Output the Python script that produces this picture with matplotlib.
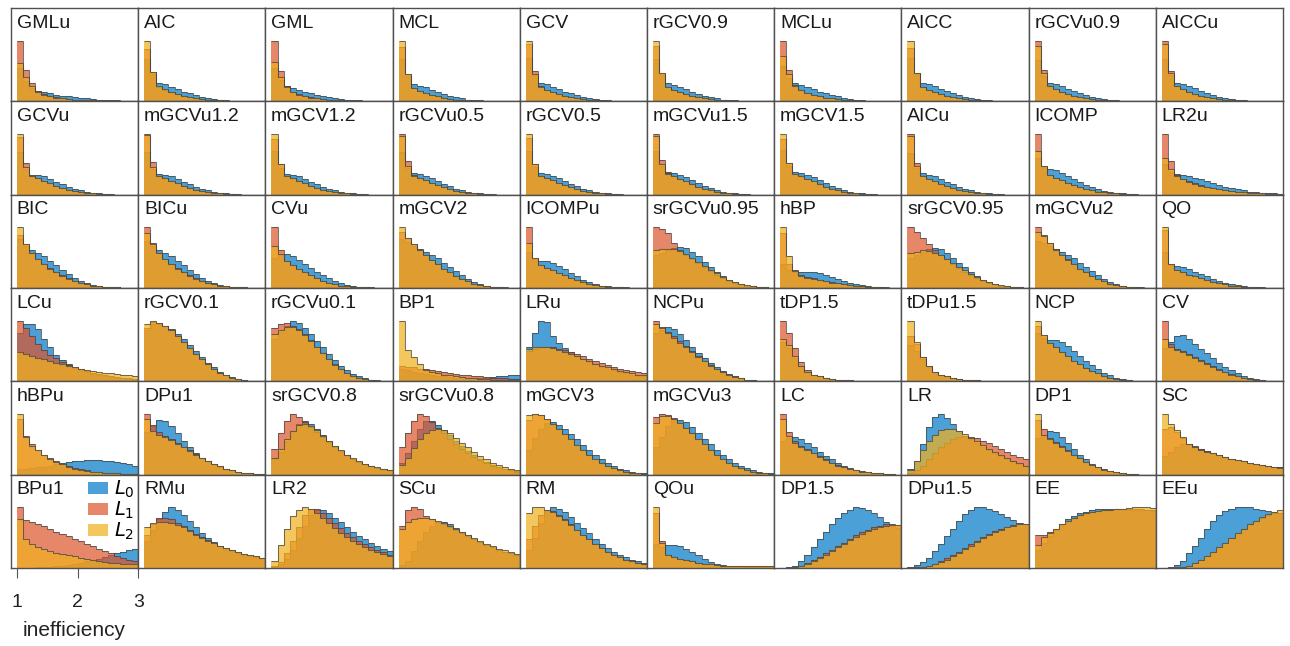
import numpy as np
import matplotlib.pyplot as plt
from matplotlib.patches import Patch

plt.rcParams['font.family'] = ['Liberation Sans', 'DejaVu Sans']

names = ['GMLu', 'AIC', 'GML', 'MCL', 'GCV', 'rGCV0.9', 'MCLu', 'AICC', 'rGCVu0.9', 'AICCu',
         'GCVu', 'mGCVu1.2', 'mGCV1.2', 'rGCVu0.5', 'rGCV0.5', 'mGCVu1.5', 'mGCV1.5', 'AICu', 'ICOMP', 'LR2u',
         'BIC', 'BICu', 'CVu', 'mGCV2', 'ICOMPu', 'srGCVu0.95', 'hBP', 'srGCV0.95', 'mGCVu2', 'QO',
         'LCu', 'rGCV0.1', 'rGCVu0.1', 'BP1', 'LRu', 'NCPu', 'tDP1.5', 'tDPu1.5', 'NCP', 'CV',
         'hBPu', 'DPu1', 'srGCV0.8', 'srGCVu0.8', 'mGCV3', 'mGCVu3', 'LC', 'LR', 'DP1', 'SC',
         'BPu1', 'RMu', 'LR2', 'SCu', 'RM', 'QOu', 'DP1.5', 'DPu1.5', 'EE', 'EEu']

# inefficiency bins 1.0 .. 3.0, width 0.1 (relative counts)
bin_edges = np.linspace(1, 3, 21)

L0 = [
    # row 1
    [55, 33, 22, 17, 15, 13, 11, 9, 8, 7, 6, 5, 4, 3, 3, 2, 2, 1, 1, 1],
    [70, 45, 30, 28, 24, 20, 16, 13, 10, 7, 5, 4, 3, 2, 1, 1, 1, 0, 0, 0],
    [55, 35, 26, 22, 19, 16, 13, 11, 9, 7, 5, 4, 3, 2, 2, 1, 1, 1, 0, 0],
    [70, 42, 28, 26, 23, 19, 15, 12, 9, 7, 5, 3, 2, 2, 1, 1, 0, 0, 0, 0],
    [72, 44, 30, 28, 24, 20, 16, 13, 10, 7, 5, 4, 3, 2, 1, 1, 0, 0, 0, 0],
    [70, 43, 30, 27, 24, 20, 16, 12, 9, 7, 5, 3, 2, 2, 1, 1, 0, 0, 0, 0],
    [58, 38, 30, 27, 24, 20, 16, 13, 10, 8, 6, 4, 3, 2, 1, 1, 1, 0, 0, 0],
    [72, 45, 31, 28, 25, 21, 17, 13, 10, 7, 5, 4, 3, 2, 1, 1, 0, 0, 0, 0],
    [68, 42, 30, 28, 25, 21, 17, 13, 10, 7, 5, 4, 3, 2, 1, 1, 0, 0, 0, 0],
    [70, 44, 31, 29, 26, 22, 17, 13, 10, 7, 5, 4, 3, 2, 1, 1, 0, 0, 0, 0],
    # row 2
    [70, 42, 33, 33, 30, 26, 21, 17, 13, 10, 7, 5, 3, 2, 1, 1, 0, 0, 0, 0],
    [70, 43, 34, 33, 30, 26, 21, 17, 13, 10, 7, 5, 3, 2, 1, 1, 0, 0, 0, 0],
    [72, 44, 34, 33, 30, 26, 21, 17, 13, 10, 7, 5, 3, 2, 1, 1, 0, 0, 0, 0],
    [70, 44, 35, 34, 31, 27, 22, 18, 14, 10, 7, 5, 3, 2, 1, 1, 0, 0, 0, 0],
    [72, 45, 35, 34, 31, 27, 22, 18, 14, 10, 7, 5, 3, 2, 1, 1, 0, 0, 0, 0],
    [72, 47, 38, 36, 33, 29, 24, 19, 15, 11, 8, 5, 3, 2, 1, 1, 0, 0, 0, 0],
    [74, 48, 38, 36, 33, 29, 24, 19, 15, 11, 8, 5, 3, 2, 1, 1, 0, 0, 0, 0],
    [68, 44, 35, 33, 30, 26, 21, 17, 13, 10, 7, 5, 3, 2, 1, 1, 0, 0, 0, 0],
    [60, 45, 42, 40, 36, 31, 26, 21, 16, 12, 9, 6, 4, 3, 2, 1, 1, 0, 0, 0],
    [50, 38, 34, 33, 31, 28, 25, 22, 19, 16, 13, 11, 9, 7, 5, 4, 3, 2, 2, 1],
    # row 3
    [80, 70, 62, 58, 52, 45, 38, 30, 23, 17, 12, 8, 5, 3, 2, 1, 1, 0, 0, 0],
    [78, 70, 63, 58, 52, 45, 38, 30, 23, 17, 12, 8, 5, 3, 2, 1, 1, 0, 0, 0],
    [50, 55, 56, 52, 46, 40, 33, 27, 21, 16, 12, 8, 5, 3, 2, 1, 1, 0, 0, 0],
    [80, 76, 70, 64, 60, 55, 49, 42, 35, 28, 21, 15, 10, 6, 4, 2, 1, 1, 0, 0],
    [60, 48, 45, 45, 42, 37, 31, 25, 19, 14, 10, 7, 4, 3, 2, 1, 1, 0, 0, 0],
    [55, 58, 62, 66, 68, 66, 60, 52, 43, 35, 27, 20, 14, 10, 7, 4, 3, 2, 1, 0],
    [40, 30, 26, 27, 27, 26, 24, 21, 18, 15, 12, 9, 7, 5, 3, 2, 1, 1, 0, 0],
    [50, 55, 60, 64, 66, 64, 58, 50, 42, 34, 26, 19, 14, 10, 7, 4, 3, 2, 1, 0],
    [78, 74, 70, 65, 60, 55, 49, 42, 35, 28, 21, 15, 10, 6, 4, 2, 1, 1, 0, 0],
    [60, 38, 36, 34, 31, 27, 23, 19, 15, 12, 9, 7, 5, 3, 2, 1, 1, 0, 0, 0],
    # row 4
    [80, 95, 95, 86, 70, 56, 43, 35, 28, 22, 18, 15, 12, 10, 8, 7, 6, 5, 4, 3],
    [85, 95, 95, 92, 86, 78, 70, 60, 50, 40, 31, 23, 16, 11, 7, 4, 2, 1, 1, 0],
    [70, 82, 92, 100, 96, 88, 78, 67, 56, 45, 35, 26, 18, 12, 8, 5, 3, 2, 1, 0],
    [20, 18, 16, 14, 12, 10, 9, 8, 7, 6, 6, 5, 5, 5, 6, 7, 8, 9, 10, 10],
    [56, 80, 100, 98, 75, 63, 55, 48, 42, 37, 32, 28, 24, 21, 18, 15, 13, 11, 9, 8],
    [80, 84, 90, 86, 78, 68, 57, 47, 38, 30, 23, 17, 12, 8, 5, 3, 2, 1, 1, 0],
    [65, 55, 38, 25, 16, 11, 8, 6, 4, 3, 2, 2, 1, 1, 1, 0, 0, 0, 0, 0],
    [60, 50, 36, 24, 16, 11, 8, 6, 4, 3, 2, 2, 1, 1, 1, 0, 0, 0, 0, 0],
    [80, 72, 68, 68, 65, 58, 50, 42, 34, 27, 20, 14, 10, 6, 4, 2, 1, 1, 0, 0],
    [55, 65, 75, 76, 70, 62, 54, 46, 38, 31, 24, 18, 13, 9, 6, 4, 2, 1, 1, 0],
    # row 5
    [10, 10, 11, 12, 13, 15, 17, 19, 21, 22, 23, 24, 24, 24, 23, 22, 21, 19, 17, 15],
    [70, 80, 90, 88, 80, 68, 56, 45, 36, 28, 22, 17, 13, 10, 7, 5, 3, 2, 1, 1],
    [25, 38, 55, 72, 84, 88, 84, 76, 66, 56, 47, 39, 32, 26, 21, 17, 14, 11, 9, 7],
    [20, 35, 55, 75, 88, 88, 82, 74, 65, 56, 47, 39, 32, 26, 21, 16, 13, 10, 8, 6],
    [40, 60, 76, 85, 86, 82, 75, 67, 58, 49, 40, 32, 25, 19, 14, 10, 7, 5, 3, 2],
    [45, 62, 80, 90, 90, 86, 78, 69, 59, 50, 41, 33, 26, 20, 15, 11, 8, 5, 3, 2],
    [55, 60, 62, 58, 52, 45, 38, 31, 25, 20, 15, 11, 8, 6, 4, 3, 2, 1, 1, 0],
    [10, 22, 50, 78, 95, 100, 94, 84, 72, 64, 58, 52, 46, 40, 35, 30, 26, 22, 18, 15],
    [60, 65, 72, 70, 62, 52, 42, 33, 25, 18, 13, 9, 6, 4, 2, 1, 1, 0, 0, 0],
    [30, 38, 45, 50, 50, 47, 43, 39, 35, 32, 29, 26, 24, 22, 20, 18, 16, 15, 13, 12],
    # row 6
    [0, 0, 0, 1, 1, 2, 3, 4, 5, 7, 9, 11, 13, 15, 18, 21, 24, 27, 30, 32],
    [45, 62, 80, 93, 100, 96, 88, 78, 68, 58, 50, 43, 37, 32, 28, 25, 22, 20, 18, 16],
    [2, 6, 15, 30, 50, 70, 88, 96, 95, 90, 83, 76, 68, 60, 53, 47, 41, 36, 32, 28],
    [5, 12, 28, 45, 60, 70, 76, 76, 72, 66, 60, 54, 48, 43, 38, 34, 30, 27, 24, 21],
    [30, 50, 75, 95, 100, 98, 92, 84, 75, 66, 57, 48, 40, 33, 27, 22, 18, 14, 11, 9],
    [40, 35, 38, 38, 36, 32, 27, 21, 15, 10, 7, 5, 4, 3, 3, 2, 2, 2, 2, 2],
    [0, 1, 4, 12, 22, 34, 48, 60, 72, 82, 90, 96, 100, 99, 96, 91, 84, 76, 70, 66],
    [1, 5, 10, 17, 28, 40, 52, 65, 78, 89, 96, 100, 100, 98, 94, 89, 84, 79, 75, 73],
    [30, 42, 52, 62, 72, 80, 86, 90, 93, 95, 97, 98, 98, 98, 97, 96, 96, 95, 95, 94],
    [0, 2, 5, 12, 24, 37, 50, 64, 77, 87, 94, 98, 100, 100, 100, 98, 96, 94, 92, 90],
]

L1 = [
    # row 1
    [100, 52, 30, 17, 12, 9, 7, 5, 4, 3, 3, 2, 2, 1, 1, 1, 1, 0, 0, 0],
    [87, 48, 24, 19, 15, 12, 9, 7, 5, 4, 3, 2, 2, 1, 1, 1, 0, 0, 0, 0],
    [100, 50, 26, 16, 12, 9, 7, 5, 4, 3, 2, 2, 1, 1, 1, 0, 0, 0, 0, 0],
    [90, 45, 22, 17, 13, 10, 8, 6, 4, 3, 2, 2, 1, 1, 1, 0, 0, 0, 0, 0],
    [95, 50, 25, 19, 15, 12, 9, 7, 5, 4, 3, 2, 1, 1, 1, 0, 0, 0, 0, 0],
    [92, 47, 24, 19, 15, 12, 9, 7, 5, 4, 3, 2, 1, 1, 1, 0, 0, 0, 0, 0],
    [100, 52, 27, 18, 14, 11, 8, 6, 5, 4, 3, 2, 1, 1, 1, 0, 0, 0, 0, 0],
    [88, 47, 24, 19, 15, 12, 9, 7, 5, 4, 3, 2, 1, 1, 1, 0, 0, 0, 0, 0],
    [100, 52, 26, 20, 16, 12, 9, 7, 5, 4, 3, 2, 1, 1, 1, 0, 0, 0, 0, 0],
    [100, 50, 25, 20, 16, 12, 9, 7, 5, 4, 3, 2, 1, 1, 1, 0, 0, 0, 0, 0],
    # row 2
    [95, 53, 30, 27, 23, 19, 15, 11, 8, 6, 4, 3, 2, 1, 1, 0, 0, 0, 0, 0],
    [100, 54, 31, 27, 23, 19, 15, 11, 8, 6, 4, 3, 2, 1, 1, 0, 0, 0, 0, 0],
    [92, 50, 30, 27, 23, 19, 15, 11, 8, 6, 4, 3, 2, 1, 1, 0, 0, 0, 0, 0],
    [100, 55, 32, 28, 24, 20, 16, 12, 9, 6, 4, 3, 2, 1, 1, 0, 0, 0, 0, 0],
    [93, 50, 31, 28, 24, 20, 16, 12, 9, 6, 4, 3, 2, 1, 1, 0, 0, 0, 0, 0],
    [100, 57, 35, 30, 26, 22, 17, 13, 10, 7, 5, 3, 2, 1, 1, 0, 0, 0, 0, 0],
    [92, 52, 34, 30, 26, 22, 17, 13, 10, 7, 5, 3, 2, 1, 1, 0, 0, 0, 0, 0],
    [100, 52, 30, 26, 22, 18, 14, 11, 8, 6, 4, 3, 2, 1, 1, 0, 0, 0, 0, 0],
    [100, 48, 33, 28, 24, 20, 16, 13, 10, 7, 5, 4, 3, 2, 1, 1, 0, 0, 0, 0],
    [100, 55, 32, 26, 22, 19, 16, 13, 11, 9, 7, 6, 5, 4, 3, 2, 2, 1, 1, 1],
    # row 3
    [88, 72, 58, 48, 40, 33, 27, 21, 16, 12, 9, 6, 4, 3, 2, 1, 1, 0, 0, 0],
    [100, 74, 58, 48, 40, 33, 27, 21, 16, 12, 9, 6, 4, 3, 2, 1, 1, 0, 0, 0],
    [100, 62, 45, 38, 32, 26, 21, 16, 12, 9, 6, 4, 3, 2, 1, 1, 0, 0, 0, 0],
    [92, 82, 73, 63, 54, 46, 39, 32, 26, 20, 15, 11, 7, 5, 3, 2, 1, 0, 0, 0],
    [100, 50, 38, 33, 29, 25, 21, 17, 13, 10, 7, 5, 3, 2, 1, 1, 0, 0, 0, 0],
    [100, 97, 90, 75, 62, 55, 48, 41, 34, 28, 22, 17, 12, 9, 6, 4, 3, 2, 1, 0],
    [90, 40, 30, 22, 18, 16, 14, 12, 10, 8, 6, 5, 4, 3, 2, 1, 1, 0, 0, 0],
    [100, 92, 82, 72, 62, 54, 47, 40, 33, 27, 21, 16, 12, 9, 6, 4, 3, 2, 1, 0],
    [100, 88, 75, 64, 55, 47, 39, 32, 26, 20, 15, 11, 7, 5, 3, 2, 1, 0, 0, 0],
    [95, 40, 30, 26, 22, 19, 16, 13, 10, 8, 6, 4, 3, 2, 1, 1, 0, 0, 0, 0],
    # row 4
    [100, 88, 75, 62, 52, 44, 38, 32, 27, 23, 20, 17, 14, 12, 10, 8, 7, 6, 5, 4],
    [88, 97, 96, 91, 84, 75, 65, 55, 45, 36, 28, 20, 14, 10, 6, 4, 2, 1, 1, 0],
    [88, 94, 96, 92, 86, 78, 68, 57, 47, 37, 28, 20, 14, 9, 6, 4, 2, 1, 1, 0],
    [25, 24, 23, 21, 20, 18, 17, 15, 14, 12, 11, 10, 9, 8, 7, 6, 5, 5, 4, 4],
    [50, 54, 56, 57, 56, 54, 51, 48, 45, 41, 37, 33, 30, 27, 24, 21, 19, 17, 15, 14],
    [100, 90, 82, 74, 66, 58, 50, 42, 34, 27, 21, 16, 11, 8, 5, 3, 2, 1, 1, 0],
    [100, 80, 55, 32, 18, 11, 8, 6, 4, 3, 2, 2, 1, 1, 1, 0, 0, 0, 0, 0],
    [75, 62, 40, 25, 16, 11, 8, 6, 4, 3, 2, 2, 1, 1, 1, 0, 0, 0, 0, 0],
    [92, 76, 64, 56, 48, 41, 34, 28, 22, 17, 13, 9, 6, 4, 3, 2, 1, 0, 0, 0],
    [100, 62, 54, 50, 45, 40, 35, 30, 25, 20, 16, 12, 9, 6, 4, 3, 2, 1, 1, 0],
    # row 5
    [92, 64, 50, 41, 33, 27, 22, 18, 14, 11, 9, 7, 5, 4, 3, 2, 2, 1, 1, 1],
    [100, 82, 70, 64, 58, 52, 46, 40, 34, 28, 23, 18, 14, 10, 7, 5, 3, 2, 1, 1],
    [43, 68, 88, 100, 95, 86, 78, 70, 62, 54, 46, 39, 32, 26, 21, 17, 14, 11, 9, 7],
    [46, 68, 88, 100, 96, 86, 77, 68, 59, 50, 42, 35, 29, 24, 19, 15, 12, 9, 7, 5],
    [90, 100, 98, 92, 84, 76, 67, 58, 49, 41, 33, 26, 20, 15, 11, 8, 5, 3, 2, 1],
    [95, 100, 98, 93, 85, 77, 68, 59, 50, 41, 33, 26, 20, 15, 11, 8, 5, 3, 2, 1],
    [100, 70, 55, 48, 42, 36, 30, 25, 20, 16, 12, 9, 7, 5, 4, 3, 2, 1, 1, 0],
    [3, 8, 15, 25, 35, 45, 53, 58, 62, 63, 62, 60, 56, 52, 47, 42, 37, 33, 29, 25],
    [90, 75, 60, 54, 47, 40, 33, 27, 21, 16, 12, 8, 6, 4, 2, 1, 1, 0, 0, 0],
    [75, 78, 70, 60, 50, 46, 42, 39, 35, 32, 29, 26, 24, 22, 20, 18, 16, 15, 13, 12],
    # row 6
    [100, 79, 76, 73, 70, 64, 60, 56, 52, 48, 44, 40, 36, 32, 28, 24, 20, 17, 14, 11],
    [55, 72, 82, 83, 80, 75, 69, 62, 56, 51, 46, 41, 37, 33, 29, 26, 23, 21, 19, 17],
    [3, 10, 25, 45, 68, 88, 98, 97, 90, 82, 74, 66, 58, 51, 45, 39, 34, 30, 26, 22],
    [70, 95, 100, 98, 85, 80, 76, 72, 67, 62, 57, 52, 47, 43, 38, 34, 30, 27, 24, 21],
    [48, 70, 88, 96, 94, 88, 80, 72, 63, 55, 47, 40, 33, 27, 22, 18, 14, 11, 9, 7],
    [90, 45, 22, 18, 15, 13, 11, 9, 7, 6, 5, 4, 4, 3, 3, 3, 3, 3, 3, 3],
    [0, 0, 1, 4, 8, 13, 18, 24, 30, 36, 42, 48, 54, 59, 63, 67, 70, 72, 72, 71],
    [0, 1, 2, 4, 7, 11, 16, 21, 27, 33, 39, 45, 51, 56, 61, 65, 68, 71, 72, 73],
    [54, 54, 59, 65, 72, 78, 83, 87, 90, 92, 94, 95, 96, 97, 97, 97, 97, 97, 96, 96],
    [0, 0, 1, 2, 4, 8, 13, 19, 26, 34, 42, 50, 58, 65, 72, 78, 83, 87, 90, 91],
]

L2 = [
    # row 1
    [63, 40, 25, 15, 11, 8, 6, 5, 4, 3, 3, 2, 2, 1, 1, 1, 1, 0, 0, 0],
    [100, 48, 25, 20, 16, 12, 9, 7, 5, 4, 3, 2, 2, 1, 1, 1, 0, 0, 0, 0],
    [65, 40, 24, 15, 11, 8, 6, 5, 4, 3, 2, 2, 1, 1, 1, 0, 0, 0, 0, 0],
    [100, 45, 22, 17, 13, 10, 8, 6, 4, 3, 2, 2, 1, 1, 1, 0, 0, 0, 0, 0],
    [100, 45, 24, 19, 15, 12, 9, 7, 5, 4, 3, 2, 1, 1, 1, 0, 0, 0, 0, 0],
    [100, 46, 24, 19, 15, 12, 9, 7, 5, 4, 3, 2, 1, 1, 1, 0, 0, 0, 0, 0],
    [75, 45, 26, 18, 14, 11, 8, 6, 5, 4, 3, 2, 1, 1, 1, 0, 0, 0, 0, 0],
    [100, 47, 24, 19, 15, 12, 9, 7, 5, 4, 3, 2, 1, 1, 1, 0, 0, 0, 0, 0],
    [92, 46, 25, 20, 16, 12, 9, 7, 5, 4, 3, 2, 1, 1, 1, 0, 0, 0, 0, 0],
    [95, 46, 25, 20, 16, 12, 9, 7, 5, 4, 3, 2, 1, 1, 1, 0, 0, 0, 0, 0],
    # row 2
    [100, 45, 30, 27, 23, 19, 15, 11, 8, 6, 4, 3, 2, 1, 1, 0, 0, 0, 0, 0],
    [98, 46, 30, 27, 23, 19, 15, 11, 8, 6, 4, 3, 2, 1, 1, 0, 0, 0, 0, 0],
    [100, 50, 30, 27, 23, 19, 15, 11, 8, 6, 4, 3, 2, 1, 1, 0, 0, 0, 0, 0],
    [96, 48, 31, 28, 24, 20, 16, 12, 9, 6, 4, 3, 2, 1, 1, 0, 0, 0, 0, 0],
    [100, 50, 31, 28, 24, 20, 16, 12, 9, 6, 4, 3, 2, 1, 1, 0, 0, 0, 0, 0],
    [97, 50, 34, 30, 26, 22, 17, 13, 10, 7, 5, 3, 2, 1, 1, 0, 0, 0, 0, 0],
    [100, 52, 34, 30, 26, 22, 17, 13, 10, 7, 5, 3, 2, 1, 1, 0, 0, 0, 0, 0],
    [96, 48, 30, 26, 22, 18, 14, 11, 8, 6, 4, 3, 2, 1, 1, 0, 0, 0, 0, 0],
    [72, 48, 33, 28, 24, 20, 16, 13, 10, 7, 5, 4, 3, 2, 1, 1, 0, 0, 0, 0],
    [60, 42, 30, 25, 21, 18, 15, 13, 11, 9, 7, 6, 5, 4, 3, 2, 2, 1, 1, 1],
    # row 3
    [100, 72, 57, 47, 39, 32, 26, 20, 15, 11, 8, 6, 4, 3, 2, 1, 1, 0, 0, 0],
    [90, 72, 57, 47, 39, 32, 26, 20, 15, 11, 8, 6, 4, 3, 2, 1, 1, 0, 0, 0],
    [70, 56, 45, 38, 32, 26, 21, 16, 12, 9, 6, 4, 3, 2, 1, 1, 0, 0, 0, 0],
    [100, 82, 73, 63, 54, 46, 39, 32, 26, 20, 15, 11, 7, 5, 3, 2, 1, 0, 0, 0],
    [75, 50, 38, 33, 29, 25, 21, 17, 13, 10, 7, 5, 3, 2, 1, 1, 0, 0, 0, 0],
    [62, 64, 65, 64, 61, 56, 50, 43, 36, 30, 24, 18, 14, 10, 7, 5, 3, 2, 1, 0],
    [100, 52, 28, 20, 17, 15, 13, 11, 9, 8, 6, 5, 4, 3, 2, 1, 1, 0, 0, 0],
    [58, 60, 62, 61, 58, 54, 48, 42, 35, 29, 23, 18, 13, 10, 7, 5, 3, 2, 1, 0],
    [92, 85, 74, 63, 54, 46, 39, 32, 26, 20, 15, 11, 7, 5, 3, 2, 1, 0, 0, 0],
    [100, 40, 30, 26, 22, 19, 16, 13, 10, 8, 6, 4, 3, 2, 1, 1, 0, 0, 0, 0],
    # row 4
    [48, 45, 42, 39, 36, 33, 30, 28, 26, 23, 21, 19, 17, 16, 14, 13, 12, 11, 10, 9],
    [95, 100, 96, 91, 84, 75, 65, 55, 45, 36, 28, 20, 14, 10, 6, 4, 2, 1, 1, 0],
    [78, 85, 90, 90, 85, 77, 67, 56, 46, 36, 27, 20, 14, 9, 6, 4, 2, 1, 1, 0],
    [100, 52, 40, 28, 18, 15, 13, 11, 10, 8, 7, 6, 5, 4, 4, 3, 3, 2, 2, 2],
    [54, 56, 57, 57, 55, 52, 49, 45, 41, 37, 33, 29, 26, 23, 20, 17, 15, 13, 11, 10],
    [95, 88, 80, 72, 64, 56, 48, 40, 33, 26, 20, 15, 11, 7, 5, 3, 2, 1, 1, 0],
    [70, 60, 42, 26, 16, 11, 8, 6, 4, 3, 2, 2, 1, 1, 1, 0, 0, 0, 0, 0],
    [100, 65, 40, 25, 16, 11, 8, 6, 4, 3, 2, 2, 1, 1, 1, 0, 0, 0, 0, 0],
    [100, 76, 64, 56, 48, 41, 34, 28, 22, 17, 13, 9, 6, 4, 3, 2, 1, 0, 0, 0],
    [70, 56, 52, 48, 44, 39, 34, 29, 24, 19, 15, 11, 8, 6, 4, 3, 2, 1, 1, 0],
    # row 5
    [100, 62, 48, 40, 32, 26, 21, 17, 13, 10, 8, 6, 5, 4, 3, 2, 2, 1, 1, 1],
    [92, 72, 66, 62, 57, 51, 45, 39, 33, 28, 23, 18, 14, 10, 7, 5, 3, 2, 1, 1],
    [27, 42, 58, 72, 82, 84, 80, 73, 64, 56, 48, 40, 33, 27, 22, 18, 15, 12, 10, 8],
    [16, 28, 44, 58, 68, 74, 76, 74, 68, 61, 53, 45, 38, 31, 25, 20, 16, 12, 9, 7],
    [98, 100, 98, 92, 84, 76, 67, 58, 49, 41, 33, 26, 20, 15, 11, 8, 5, 3, 2, 1],
    [85, 96, 96, 92, 85, 77, 68, 59, 50, 41, 33, 26, 20, 15, 11, 8, 5, 3, 2, 1],
    [92, 64, 52, 46, 40, 35, 29, 24, 19, 15, 12, 9, 7, 5, 4, 3, 2, 1, 1, 0],
    [8, 22, 40, 55, 66, 73, 76, 75, 72, 67, 61, 55, 49, 43, 37, 32, 27, 23, 19, 15],
    [100, 65, 58, 53, 46, 39, 33, 27, 21, 16, 12, 8, 6, 4, 2, 1, 1, 0, 0, 0],
    [100, 83, 73, 62, 50, 45, 41, 38, 35, 32, 29, 26, 24, 22, 20, 18, 16, 15, 13, 11],
    # row 6
    [81, 48, 40, 35, 31, 28, 25, 23, 21, 19, 17, 15, 13, 12, 10, 9, 8, 7, 6, 6],
    [67, 75, 76, 76, 74, 71, 67, 61, 55, 50, 45, 41, 37, 33, 29, 26, 23, 21, 19, 17],
    [12, 38, 65, 85, 96, 100, 97, 90, 82, 74, 66, 58, 51, 45, 39, 34, 30, 26, 23, 20],
    [65, 76, 80, 82, 82, 81, 78, 74, 69, 64, 59, 54, 49, 45, 40, 36, 32, 29, 26, 23],
    [90, 100, 100, 96, 92, 86, 79, 71, 63, 55, 47, 40, 33, 27, 22, 18, 14, 11, 9, 7],
    [100, 42, 22, 18, 15, 13, 11, 9, 7, 6, 5, 4, 4, 3, 3, 3, 3, 3, 3, 3],
    [0, 0, 1, 3, 7, 11, 16, 22, 28, 34, 40, 46, 51, 56, 61, 65, 68, 70, 71, 71],
    [0, 0, 1, 3, 6, 10, 14, 19, 25, 31, 37, 43, 49, 54, 59, 63, 67, 70, 72, 73],
    [38, 51, 58, 65, 72, 78, 83, 87, 90, 92, 94, 95, 96, 97, 98, 99, 100, 100, 100, 99],
    [0, 0, 1, 2, 4, 8, 13, 19, 26, 34, 42, 50, 58, 65, 72, 78, 84, 89, 93, 95],
]

series_labels = ['$L_0$', '$L_1$', '$L_2$']
colors = ['#4BA0D7', '#DE5429', '#F0B020']
alphas = [1.0, 0.7, 0.72]

W, H = 1290, 646
fig = plt.figure(figsize=(W / 100, H / 100), dpi=100)

# grid of panels in pixel coordinates
gx0, gx1, gy0, gy1 = 11, 1283, 8, 568
ncol, nrow = 10, 6
cw = (gx1 - gx0) / ncol
rh = (gy1 - gy0) / nrow

for i, name in enumerate(names):
    r, c = divmod(i, ncol)
    ax = fig.add_axes([(gx0 + c * cw) / W, 1 - (gy0 + (r + 1) * rh) / H, cw / W, rh / H])
    for vals, col, a in zip((L0[i], L1[i], L2[i]), colors, alphas):
        ax.stairs(vals, bin_edges, fill=True, color=col, alpha=a, lw=0)
        ax.stairs(vals, bin_edges, baseline=None, color='#454545', lw=0.75, alpha=0.75)
    top = max(max(L0[i]), max(L1[i]), max(L2[i]))
    ax.set_xlim(0.9, 3.0)
    ax.set_ylim(0, top / 0.65)
    ax.set_yticks([])
    for s in ax.spines.values():
        s.set_color('#505050')
        s.set_linewidth(1.0)
    ax.text(0.045, 0.93, name, transform=ax.transAxes, ha='left', va='top',
            fontsize=14, color='#1a1a1a')
    if r == nrow - 1 and c == 0:
        ax.set_xticks([1, 2, 3])
        ax.tick_params(axis='x', direction='out', length=7, width=0.8, color='#555555',
                       pad=12, labelsize=14, labelcolor='#222222')
        ax.set_xlabel('inefficiency', fontsize=15, labelpad=7, color='#222222')
        handles = [Patch(facecolor=col, alpha=a) for col, a in zip(colors, alphas)]
        ax.legend(handles, series_labels, loc='upper right', frameon=False, fontsize=14,
                  handlelength=1.0, handleheight=0.55, handletextpad=0.3,
                  labelspacing=0.0, borderaxespad=0.1, borderpad=0.1)
    else:
        ax.set_xticks([])

fig.savefig('out.png', dpi=100)
